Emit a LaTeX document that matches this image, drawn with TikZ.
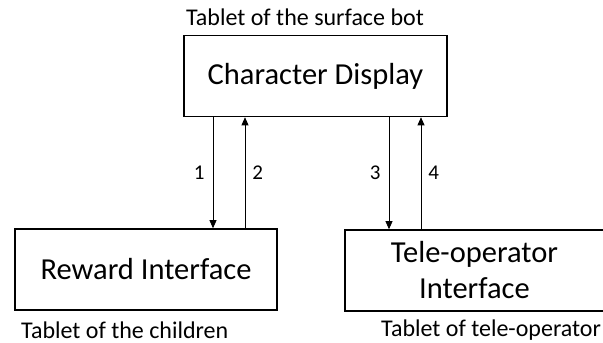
\documentclass[tikz,border=0pt]{standalone}
\usepackage{fontspec}
\setmainfont{Carlito}
\usetikzlibrary{positioning,arrows.meta}

\begin{document}
\begin{tikzpicture}[x=1pt,y=1pt]
        \tikzset{
            caixa/.style={
                draw,
                line width=1.6pt,
                minimum width=#1,
                minimum height=81pt,
                align=center,
                font=\fontsize{30.5}{36}\selectfont
            },
            seta/.style={
                -{Triangle[length=8pt,width=7pt]},
                line width=0.8pt
            },
            rotulo/.style={
                font=\fontsize{24}{28}\selectfont,
                inner sep=0pt
            },
            num/.style={
                font=\fontsize{21}{25}\selectfont,
                inner sep=3pt
            }
        }
        \useasboundingbox (0,0) rectangle (603,343);

        \node[caixa=263pt] (disp) at (315.5,267) {Character Display};
        \node[caixa=262pt] (reward) at (146,73.5) {Reward Interface};
        \node[caixa=259pt] (tele) at (474.5,72.5) {Tele-operator\\[0pt]Interface};

        \node[rotulo] (tabsurf) at (305,326) {Tablet of the surface bot};
        \node[rotulo, anchor=west] (tabchild) at (21,13) {Tablet of the children};
        \node[rotulo, anchor=west] (tabtele) at (381,13) {Tablet of tele-operator};

        \foreach \x/\n in {213/a,245/b,389/c,421/d} { %ABSCISSAS DAS SETAS
            \coordinate (\n) at (\x,0);
        }
        \draw[seta] (a |- disp.south) -- node[num, left=5pt] (n1) {1} (a |- reward.north);
        \draw[seta] (b |- reward.north) -- node[num, right=4pt] (n2) {2} (b |- disp.south);
        \draw[seta] (c |- disp.south) -- node[num, left=5pt] (n3) {3} (c |- tele.north);
        \draw[seta] (d |- tele.north) -- node[num, right=4pt] (n4) {4} (d |- disp.south);

    \end{tikzpicture}
\end{document}
